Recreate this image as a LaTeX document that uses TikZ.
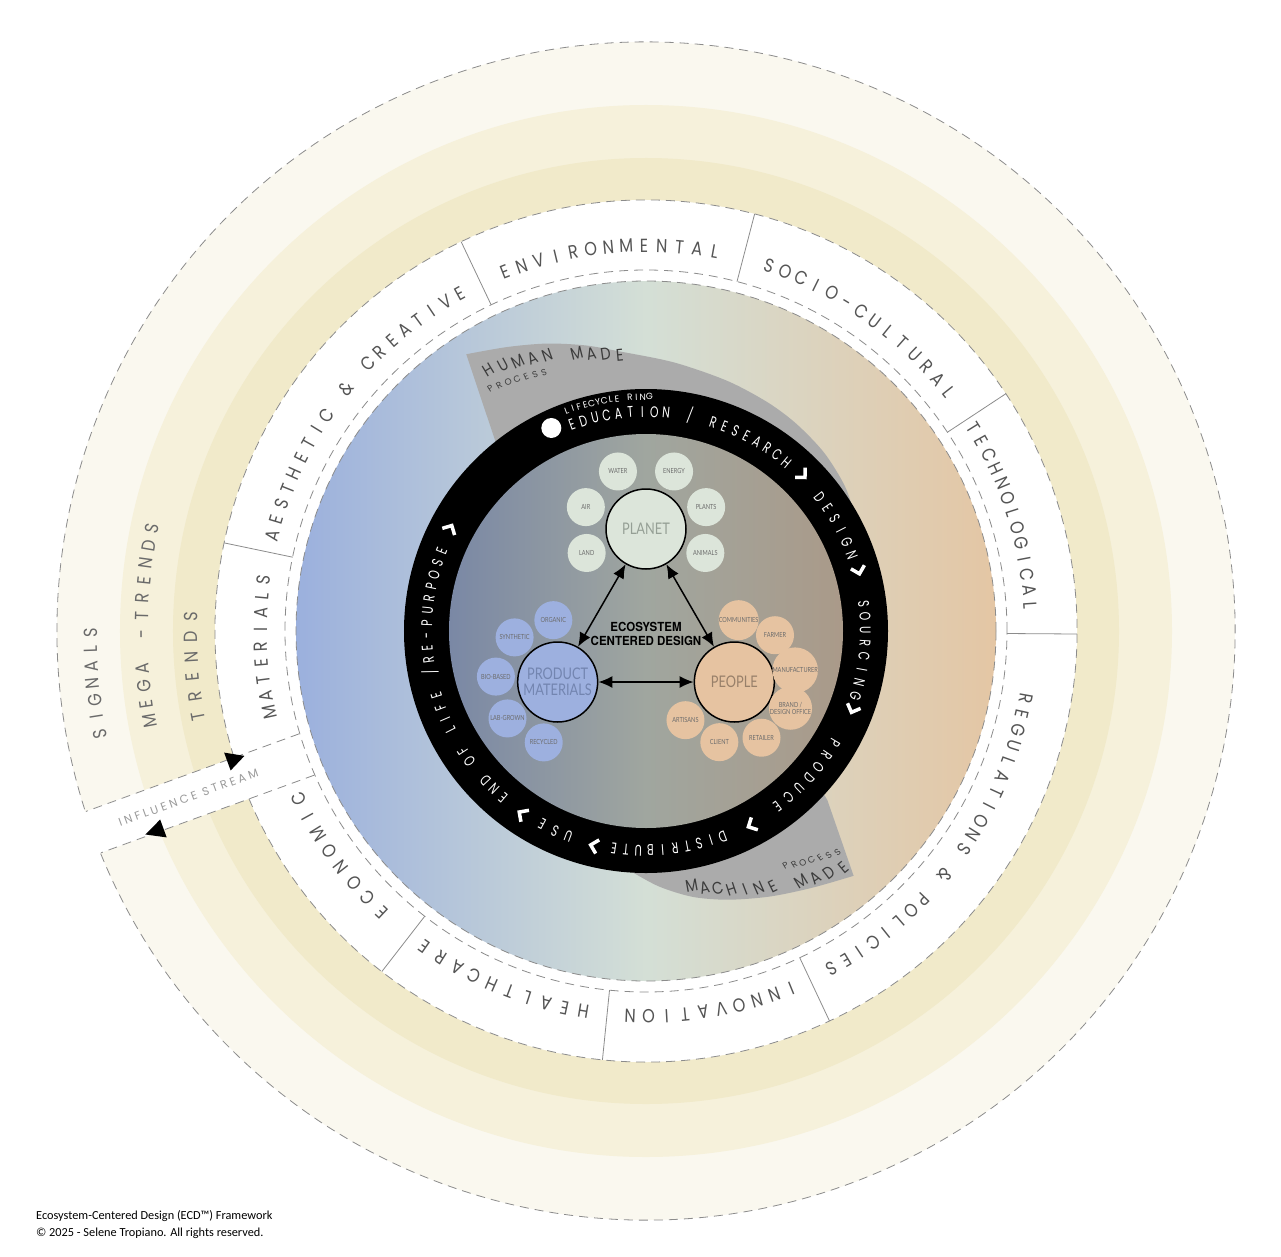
\documentclass[tikz,border=0pt]{standalone}
\usepackage{xcolor}
\usepackage{fontspec}
\setmainfont{Lato}
\newfontfamily\geofont{Poppins}
\newfontfamily\lblfont{Poppins}[FakeStretch=0.85]
\newfontfamily\ringfont{Poppins}[FakeStretch=0.7]
\newfontfamily\circfont{Lato}[FakeStretch=0.8]
\newfontfamily\ecdfont{TeX Gyre Heros}[FakeStretch=0.92]
\newfontfamily\footfont{Carlito}
\usetikzlibrary{shapes}
\usetikzlibrary{calc}
\usetikzlibrary{positioning}
\usetikzlibrary{arrows.meta}
\definecolor{signalcol}{HTML}{FAF8EF}
\definecolor{megacol}{HTML}{F6F1DB}
\definecolor{trendcol}{HTML}{F1EACA}
\definecolor{bluecol}{HTML}{9BB0DD}
\definecolor{palecol}{HTML}{D4DFD6}
\definecolor{tancol}{HTML}{E4C6A4}
\definecolor{slatecol}{HTML}{7A88A5}
\definecolor{greygreen}{HTML}{A0A69F}
\definecolor{taupecol}{HTML}{AA9A89}
\definecolor{swooshcol}{HTML}{ABABAB}
\definecolor{planetcol}{HTML}{DCE5DA}
\definecolor{materialcol}{HTML}{9DB0DF}
\definecolor{peoplecol}{HTML}{E6C3A1}
\definecolor{planettext}{HTML}{959F95}
\definecolor{materialtext}{HTML}{7385B0}
\definecolor{peopletext}{HTML}{98806A}
\definecolor{sattext}{HTML}{6C6C6C}
\definecolor{lbltext}{HTML}{555555}
\definecolor{bandtext}{HTML}{6A6A6A}
\definecolor{streamtext}{HTML}{9A9A9A}
\definecolor{madetext}{HTML}{3C3C3C}
\definecolor{dashcol}{HTML}{8C8C8C}
\tikzstyle{dashring} = [draw=dashcol, line width=0.8pt, dash pattern=on 9pt off 6pt]
\tikzstyle{divider} = [draw=dashcol, line width=0.8pt]
\tikzstyle{bigc} = [circle, draw=black, line width=1.5pt, minimum size=80pt, inner sep=0pt, align=center, font=\circfont\fontsize{16}{16}\selectfont]
\tikzstyle{satellite} = [circle, minimum size=38pt, inner sep=0pt, align=center, text=sattext, font=\circfont\fontsize{7}{7.5}\selectfont]
\tikzstyle{chev} = [white, line width=3.5pt, line join=miter]
\tikzstyle{link} = [line width=1.5pt, {Latex[length=14pt,width=12pt]}-{Latex[length=14pt,width=12pt]}]
\newcommand\lblfmt{\lblfont\fontsize{19}{19}\selectfont\color{lbltext}}
\newcommand\bandfmt{\lblfont\fontsize{19}{19}\selectfont\color{bandtext}}
\newcommand\ringfmt{\ringfont\fontsize{15.5}{15.5}\selectfont\color{white}}
\newcommand\tinyringfmt{\geofont\fontsize{9}{9}\selectfont\color{white}}
\newcommand\madefmt{\lblfont\fontsize{17}{17}\selectfont\color{madetext}}
\newcommand\processfmt{\geofont\fontsize{9}{9}\selectfont\color{madetext}}
\newcommand\arcletters[8]{%
  \foreach \ch [count=\k] in {#8} {\xdef\nletters{\k}}
  \foreach \ch [count=\k] in {#8} {
    \pgfmathsetmacro\ang{#2+(\k-(\nletters+1)/2)*(#3)/(#4)*57.29578}
    \pgfmathsetmacro\rad{#4+(\k-(\nletters+1)/2)*(#5)}
    \node[font=#7, rotate={\ang+(#6)}, anchor=base, inner sep=0pt] (#1-\k) at (\ang:\rad) {\ch};
  }}
\def\rSig{589}
\def\rMega{526}
\def\rTrend{473}
\def\rLbl{431}
\def\rLblIn{361}
\def\rDisk{350}
\def\rRing{242}
\def\rCore{197}
\begin{document}
\begin{tikzpicture}[x=1pt,y=1pt]

\useasboundingbox (-646,-625) rectangle (635,631);
\fill[white] (-646,-625) rectangle (635,631);

\coordinate (O) at (0,0);

\fill[signalcol] (O) circle (\rSig);
\fill[megacol] (O) circle (\rMega);
\fill[trendcol] (O) circle (\rTrend);
\fill[white] (O) circle (\rLbl);
\fill[white, rotate=200] (355,-22) -- (600,-22) -- (600,22) -- (355,22) -- cycle;

\shade[left color=bluecol, right color=tancol, middle color=palecol] (O) circle (\rDisk);

\fill[swooshcol] (129:236) -- plot[smooth] coordinates {(123:330) (116:316) (109:304) (102:292) (95.5:281) (84:270) (72:263) (62:259) (54:256) (45:252) (36:246) (28:238)} -- (28:234) arc[start angle=28, end angle=129, radius=234] -- cycle;
\fill[swooshcol] (-42:234) -- (-43:248) -- plot[smooth] coordinates {(-49.7:321) (-57:306) (-65:293) (-73:281) (-80:270) (-87:256) (-94:240) (-97:234)} -- (-97:230) arc[start angle=-97, end angle=-42, radius=230] -- cycle;

\fill[black] (O) circle (\rRing);
\shade[left color=slatecol, right color=taupecol, middle color=greygreen] (O) circle (\rCore);

\draw[dashring] (O) circle (\rDisk);
\draw[dashring] (O) circle (\rLblIn);
\draw[dashring] (202.9:\rLbl) arc[start angle=202.9, end angle=557.1, radius=\rLbl];
\draw[dashring] (202.2:\rSig) arc[start angle=202.2, end angle=557.8, radius=\rSig];
\draw[dashring, rotate=200] (361,-22) -- (588,-22);
\draw[dashring, rotate=200] (361,22) -- (588,22);
\fill[black, rotate=200] (420,-20) -- (438,-30) -- (438,-11) -- cycle;
\fill[black, rotate=200] (540,20) -- (521,11) -- (521,30) -- cycle;

\foreach \a in {168.2,115.4,75.4,33.4,-0.4,-64.8,-95.8,-127.8}
  \draw[divider] (\a:\rLblIn) -- (\a:\rLbl);

\arcletters{aes}{142.3}{-16.3}{379}{0}{-90}{\lblfmt}{A,E,S,T,H,E,T,I,C,{},\&,{},C,R,E,A,T,I,V,E}
\arcletters{env}{95.6}{-17.5}{379}{0}{-90}{\lblfmt}{E,N,V,I,R,O,N,M,E,N,T,A,L}
\arcletters{soc}{54.8}{-16.9}{379}{0}{-90}{\lblfmt}{S,O,C,I,O,-,C,U,L,T,U,R,A,L}
\arcletters{tec}{17.8}{-15.5}{379}{0}{-90}{\lblfmt}{T,E,C,H,N,O,L,O,G,I,C,A,L}
\arcletters{reg}{-35.6}{-16.1}{379}{0}{-90}{\lblfmt}{R,E,G,U,L,A,T,I,O,N,S,{},\&,{},P,O,L,I,C,I,E,S}
\arcletters{inn}{-80.1}{-18}{379}{0}{-90}{\lblfmt}{I,N,N,O,V,A,T,I,O,N}
\arcletters{hea}{-112.2}{-18.9}{379}{0}{-90}{\lblfmt}{H,E,A,L,T,H,C,A,R,E}
\arcletters{eco}{-143.7}{-19.8}{379}{0}{-90}{\lblfmt}{E,C,O,N,O,M,I,C}
\arcletters{mat}{182.3}{-16.4}{379}{0}{-90}{\lblfmt}{M,A,T,E,R,I,A,L,S}

\arcletters{trd}{184.5}{-19.7}{449}{0}{-90}{\bandfmt}{T,R,E,N,D,S}
\arcletters{meg}{179.3}{-17.4}{498}{0}{-90}{\bandfmt}{M,E,G,A,{},-,T,R,E,N,D,S}
\arcletters{sig}{185.4}{-16.8}{549}{0}{-90}{\bandfmt}{S,I,G,N,A,L,S}

\node[rotate=20, font=\geofont\fontsize{11.5}{11.5}\selectfont, text=streamtext] (stream) at (200:487) {I N F L U E N C E \ S T R E A M};

\arcletters{hum}{108.3}{-14.2}{285}{-3.2}{-90}{\madefmt}{H,U,M,A,N,{},M,A,D,E}
\arcletters{hpr}{117.1}{-9.1}{280}{-1.7}{-90}{\processfmt}{P,R,O,C,E,S,S}
\arcletters{mac}{-65}{13.6}{289}{4.5}{90}{\madefmt}{M,A,C,H,I,N,E,{},M,A,D,E}
\arcletters{mpr}{-54.2}{8.4}{286}{3.3}{90}{\processfmt}{P,R,O,C,E,S,S}

\fill[white] (115:224) circle (10);
\arcletters{lcr}{99.5}{-6.4}{231}{0}{-90}{\tinyringfmt}{L,I,F,E,C,Y,C,L,E,{},R,I,N,G}
\arcletters{edu}{80}{-11.7}{214}{0}{-90}{\ringfmt}{E,D,U,C,A,T,I,O,N,{},/,{},R,E,S,E,A,R,C,H}
\arcletters{des}{29}{-13}{214}{0}{-90}{\ringfmt}{D,E,S,I,G,N}
\arcletters{sou}{-5}{-13}{214}{0}{-90}{\ringfmt}{S,O,U,R,C,I,N,G}
\arcletters{pro}{-42}{-14}{214}{0}{-90}{\ringfmt}{P,R,O,D,U,C,E}
\arcletters{dis}{-84}{-12}{214}{0}{-90}{\ringfmt}{D,I,S,T,R,I,B,U,T,E}
\arcletters{use}{-114.5}{-14}{214}{0}{-90}{\ringfmt}{U,S,E}
\arcletters{eol}{194}{-12}{214}{0}{-90}{\ringfmt}{E,N,D,{},O,F,{},L,I,F,E,{},/,R,E,-,P,U,R,P,O,S,E}

\foreach \a in {44,15,-21.6,-62.4,-104.5,-125,151.5}
  \draw[chev, shift={(\a:221)}, rotate=\a-90] (-7,7) -- (0,0) -- (-7,-7);

\node[bigc, fill=planetcol, text=planettext] (planet) at (90:102) {PLANET};
\node[bigc, fill=materialcol, text=materialtext] (material) at (210:102) {PRODUCT\\MATERIALS};
\node[bigc, fill=peoplecol, text=peopletext] (people) at (330:102) {PEOPLE};

\foreach \ang/\nm/\txt in {116/water/WATER, 64/energy/ENERGY, 160/air/AIR, 20/plants/PLANTS, 202/land/LAND, -22/animals/ANIMALS}
  \node[satellite, fill=planetcol] (\nm) at ($(planet)+(\ang:64)$) {\txt};
\foreach \ang/\nm/\txt in {94/organic/ORGANIC, 134/synthetic/SYNTHETIC, 175/biobased/BIO-BASED, 216/labgrown/LAB-GROWN, 257/recycled/RECYCLED}
  \node[satellite, fill=materialcol] (\nm) at ($(material)+(\ang:62)$) {\txt};
\foreach \ang/\nm/\txt in {86/communities/COMMUNITIES, 49/farmer/FARMER, 11/manufacturer/MANUFACTURER, -25/brand/{BRAND /\\DESIGN OFFICE}, -64/retailer/RETAILER, -104/client/CLIENT, -142/artisans/ARTISANS}
  \node[satellite, fill=peoplecol] (\nm) at ($(people)+(\ang:62)$) {\txt};

\draw[link] (planet) -- (material);
\draw[link] (planet) -- (people);
\draw[link] (material) -- (people);

\node[font=\ecdfont\bfseries\fontsize{12.5}{14}\selectfont, align=center] (ecd) at (0,-3) {ECOSYSTEM\\CENTERED DESIGN};

\node[anchor=base west, font=\footfont\fontsize{12.3}{13}\selectfont, inner sep=0pt] (title) at (-610,-588) {Ecosystem-Centered Design (ECD™) Framework};
\node[anchor=base west, font=\footfont\fontsize{12.3}{13}\selectfont, inner sep=0pt] (rights) at (-610,-605) {© 2025 - Selene Tropiano. All rights reserved.};

\end{tikzpicture}
\end{document}
